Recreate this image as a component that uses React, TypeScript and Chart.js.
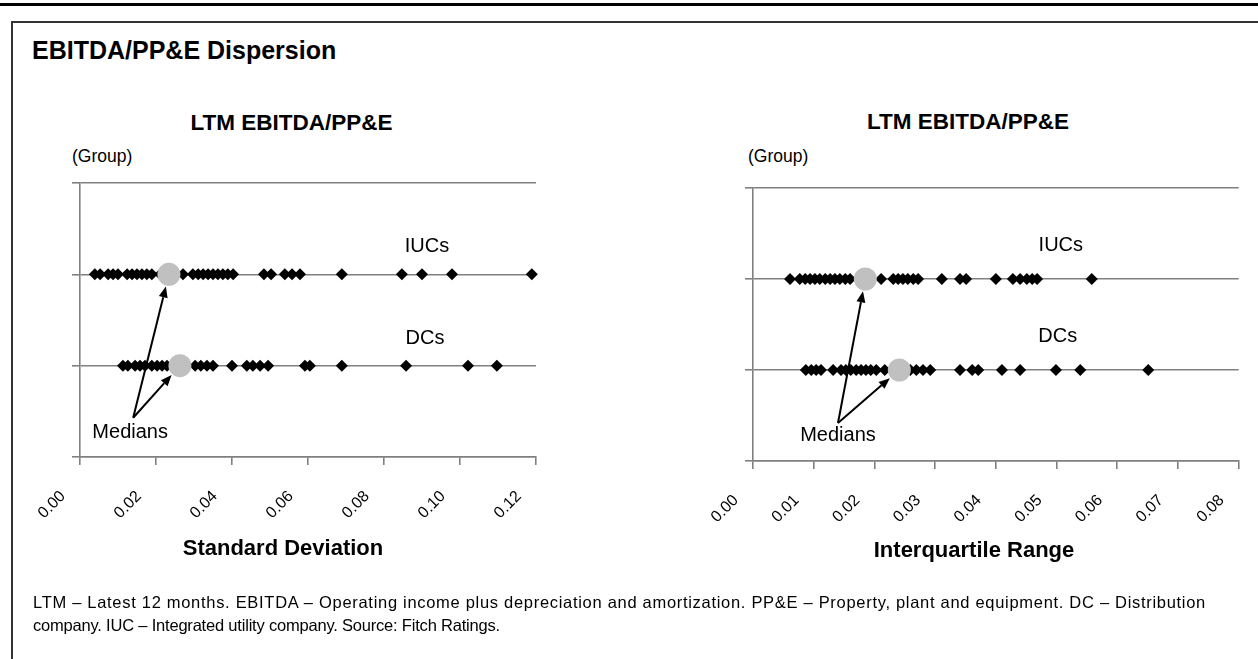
import React, { useEffect, useRef } from "react";
import { Chart, registerables } from "chart.js";

Chart.register(...registerables);

const FONT = '"Liberation Sans", Arial, Helvetica, sans-serif';

// ---- shared group axis ----
const GROUP_TICKS = [0, 1, 2, 3];
const IUC_ROW = 2;
const DC_ROW = 1;

// ---- left chart: standard deviation ----
const SD_TICKS = [0, 0.02, 0.04, 0.06, 0.08, 0.1, 0.12];
const SD_IUC = [
  0.0039, 0.0053, 0.0074, 0.0087, 0.01, 0.0124, 0.0137, 0.015, 0.0163, 0.0176,
  0.0189, 0.0211, 0.0271, 0.0297, 0.0311, 0.0324, 0.0337, 0.035, 0.0363, 0.0376,
  0.0389, 0.0403, 0.0484, 0.0503, 0.0539, 0.0558, 0.0579, 0.0689, 0.0847, 0.09,
  0.0979, 0.1189,
];
const SD_DC = [
  0.0113, 0.0126, 0.0145, 0.0158, 0.0171, 0.0189, 0.0203, 0.0216, 0.0229, 0.0242,
  0.0303, 0.0318, 0.0334, 0.035, 0.04, 0.0439, 0.0455, 0.0474, 0.0495, 0.0592,
  0.0605, 0.0689, 0.0858, 0.1021, 0.1097,
];
const SD_MEDIANS = [0.0234, 0.0263]; // IUC, DC
const SD_NOTES = [
  { text: "IUCs", x: 0.0913, y: 2.31 },
  { text: "DCs", x: 0.0908, y: 1.3 },
  { text: "Medians", x: 0.0132, y: 0.27 },
];
const SD_TAIL = { x: 0.014, y: 0.43 };

// ---- right chart: interquartile range ----
const IQR_TICKS = [0, 0.01, 0.02, 0.03, 0.04, 0.05, 0.06, 0.07, 0.08];
const IQR_IUC = [
  0.0061, 0.0077, 0.0086, 0.0094, 0.0102, 0.011, 0.0119, 0.0127, 0.0135, 0.0143,
  0.0152, 0.016, 0.0211, 0.0231, 0.0239, 0.0247, 0.0255, 0.0264, 0.0272, 0.0311,
  0.0341, 0.0351, 0.04, 0.0428, 0.044, 0.0451, 0.046, 0.0468, 0.0558,
];
const IQR_DC = [
  0.0087, 0.0096, 0.0104, 0.0112, 0.0132, 0.0145, 0.0153, 0.0161, 0.017, 0.0178,
  0.0186, 0.0194, 0.0203, 0.0217, 0.0259, 0.0269, 0.028, 0.0292, 0.0341, 0.0361,
  0.0371, 0.041, 0.044, 0.0499, 0.0539, 0.0651,
];
const IQR_MEDIANS = [0.0185, 0.0241]; // IUC, DC
const IQR_NOTES = [
  { text: "IUCs", x: 0.0507, y: 2.37 },
  { text: "DCs", x: 0.0502, y: 1.37 },
  { text: "Medians", x: 0.014, y: 0.275 },
];
const IQR_TAIL = { x: 0.014, y: 0.418 };

const GREY = "#808080";
const MEDIAN_R = 11.5;

type Cfg = {
  ticks: number[];
  iuc: number[];
  dc: number[];
  medians: number[];
  notes: { text: string; x: number; y: number }[];
  tail: { x: number; y: number };
  pad: { top: number; right: number };
  yWidth: number;
  xHeight: number;
};

const annotate = (cfg: Cfg) => ({
  id: "annot",
  afterDatasetsDraw(chart: any) {
    const ctx = chart.ctx as CanvasRenderingContext2D;
    const xs = chart.scales.x;
    const ys = chart.scales.y;
    ctx.save();
    ctx.fillStyle = "#000";
    ctx.font = `20px ${FONT}`;
    ctx.textAlign = "center";
    ctx.textBaseline = "middle";
    cfg.notes.forEach((n) => {
      ctx.fillText(n.text, xs.getPixelForValue(n.x), ys.getPixelForValue(n.y));
    });
    const tx = xs.getPixelForValue(cfg.tail.x);
    const ty = ys.getPixelForValue(cfg.tail.y);
    const targets = [
      { x: cfg.medians[0], y: IUC_ROW },
      { x: cfg.medians[1], y: DC_ROW },
    ];
    ctx.strokeStyle = "#000";
    ctx.lineWidth = 2;
    targets.forEach((t) => {
      const cx = xs.getPixelForValue(t.x);
      const cy = ys.getPixelForValue(t.y);
      const dx = cx - tx;
      const dy = cy - ty;
      const len = Math.hypot(dx, dy);
      const ux = dx / len;
      const uy = dy / len;
      const ex = cx - ux * (MEDIAN_R + 1);
      const ey = cy - uy * (MEDIAN_R + 1);
      const hl = 11;
      const hw = 4.5;
      const bx = ex - ux * hl;
      const by = ey - uy * hl;
      ctx.beginPath();
      ctx.moveTo(tx, ty);
      ctx.lineTo(bx, by);
      ctx.stroke();
      ctx.beginPath();
      ctx.moveTo(ex, ey);
      ctx.lineTo(bx - uy * hw, by + ux * hw);
      ctx.lineTo(bx + uy * hw, by - ux * hw);
      ctx.closePath();
      ctx.fillStyle = "#000";
      ctx.fill();
    });
    ctx.restore();
  },
});

function makeChart(canvas: HTMLCanvasElement, cfg: Cfg) {
  const xMax = cfg.ticks[cfg.ticks.length - 1];
  return new Chart(canvas, {
    type: "scatter",
    data: {
      datasets: [
        {
          label: "Medians",
          data: [
            { x: cfg.medians[0], y: IUC_ROW },
            { x: cfg.medians[1], y: DC_ROW },
          ],
          pointStyle: "circle",
          pointRadius: MEDIAN_R,
          backgroundColor: "#c0c0c0",
          borderWidth: 0,
          clip: false,
        } as any,
        {
          label: "IUCs",
          data: cfg.iuc.map((v) => ({ x: v, y: IUC_ROW })),
          pointStyle: "rectRot",
          pointRadius: 6,
          backgroundColor: "#000",
          borderWidth: 0,
          clip: false,
        } as any,
        {
          label: "DCs",
          data: cfg.dc.map((v) => ({ x: v, y: DC_ROW })),
          pointStyle: "rectRot",
          pointRadius: 6,
          backgroundColor: "#000",
          borderWidth: 0,
          clip: false,
        } as any,
      ],
    },
    options: {
      animation: false,
      responsive: false,
      events: [],
      layout: { padding: { top: cfg.pad.top, right: cfg.pad.right, left: 0, bottom: 0 } },
      plugins: { legend: { display: false }, tooltip: { enabled: false }, title: { display: false } },
      scales: {
        x: {
          type: "linear",
          min: 0,
          max: xMax,
          afterBuildTicks: (s: any) => {
            s.ticks = cfg.ticks.map((v) => ({ value: v }));
          },
          afterFit: (s: any) => {
            s.height = cfg.xHeight;
            s.paddingLeft = 0;
            s.paddingRight = 0;
          },
          ticks: {
            autoSkip: false,
            minRotation: 45,
            maxRotation: 45,
            padding: 22,
            labelOffset: -17,
            color: "#000",
            font: { family: FONT, size: 16 },
            callback: (v: any) => Number(v).toFixed(2),
          },
          grid: { drawOnChartArea: false, color: GREY, lineWidth: 1.6, tickLength: 8 },
          border: { color: GREY, width: 1.6 },
        },
        y: {
          type: "linear",
          min: 0,
          max: 3,
          afterBuildTicks: (s: any) => {
            s.ticks = GROUP_TICKS.map((v) => ({ value: v }));
          },
          afterFit: (s: any) => {
            s.width = cfg.yWidth;
            s.paddingTop = 0;
            s.paddingBottom = 0;
          },
          ticks: { display: false },
          grid: { color: GREY, lineWidth: 1.6, tickLength: 8, drawTicks: true },
          border: { color: GREY, width: 1.6 },
        },
      },
    } as any,
    plugins: [annotate(cfg)],
  });
}

const abs = (o: React.CSSProperties): React.CSSProperties => ({
  position: "absolute",
  lineHeight: 1,
  whiteSpace: "nowrap",
  ...o,
});

export default function App() {
  const leftRef = useRef<HTMLCanvasElement>(null);
  const rightRef = useRef<HTMLCanvasElement>(null);

  useEffect(() => {
    const a = makeChart(leftRef.current!, {
      ticks: SD_TICKS,
      iuc: SD_IUC,
      dc: SD_DC,
      medians: SD_MEDIANS,
      notes: SD_NOTES,
      tail: SD_TAIL,
      pad: { top: 13, right: 24 },
      yWidth: 60,
      xHeight: 133,
    });
    const b = makeChart(rightRef.current!, {
      ticks: IQR_TICKS,
      iuc: IQR_IUC,
      dc: IQR_DC,
      medians: IQR_MEDIANS,
      notes: IQR_NOTES,
      tail: IQR_TAIL,
      pad: { top: 13, right: 16.3 },
      yWidth: 53,
      xHeight: 134,
    });
    return () => {
      a.destroy();
      b.destroy();
    };
  }, []);

  return (
    <div
      style={{
        position: "absolute",
        left: 0,
        top: 0,
        width: 1258,
        height: 659,
        overflow: "hidden",
        background: "#fff",
        fontFamily: FONT,
        color: "#000",
      }}
    >
      <div style={abs({ left: 0, top: 3, width: 1258, height: 3, background: "#000" })} />
      <div
        style={abs({
          left: 11,
          top: 21,
          width: 1300,
          height: 700,
          borderTop: "2px solid #333",
          borderLeft: "2px solid #333",
        })}
      />
      <div style={abs({ left: 32, top: 37.5, fontSize: 25, fontWeight: "bold" })}>
        EBITDA/PP&amp;E Dispersion
      </div>

      <div
        style={abs({
          left: 291.5,
          top: 112,
          fontSize: 22.5,
          fontWeight: "bold",
          transform: "translateX(-50%)",
        })}
      >
        LTM EBITDA/PP&amp;E
      </div>
      <div style={abs({ left: 72, top: 148, fontSize: 17.5 })}>(Group)</div>

      <div
        style={abs({
          left: 968,
          top: 111,
          fontSize: 22.5,
          fontWeight: "bold",
          transform: "translateX(-50%)",
        })}
      >
        LTM EBITDA/PP&amp;E
      </div>
      <div style={abs({ left: 748, top: 148, fontSize: 17.5 })}>(Group)</div>

      <canvas
        ref={leftRef}
        width={540}
        height={420}
        style={{ position: "absolute", left: 20, top: 170, width: 540, height: 420 }}
      />
      <canvas
        ref={rightRef}
        width={555}
        height={420}
        style={{ position: "absolute", left: 700, top: 175, width: 555, height: 420 }}
      />

      <div
        style={abs({
          left: 283,
          top: 537,
          fontSize: 22,
          fontWeight: "bold",
          transform: "translateX(-50%)",
        })}
      >
        Standard Deviation
      </div>
      <div
        style={abs({
          left: 974,
          top: 539,
          fontSize: 22,
          fontWeight: "bold",
          transform: "translateX(-50%)",
        })}
      >
        Interquartile Range
      </div>

      <div style={abs({ left: 33, top: 591, fontSize: 16.5, lineHeight: "23px" })}>
        <span style={{ letterSpacing: 0.7 }}>
          LTM – Latest 12 months. EBITDA – Operating income plus depreciation and amortization.
          PP&amp;E – Property, plant and equipment. DC – Distribution
        </span>
        <br />
        <span style={{ letterSpacing: -0.2 }}>
          company. IUC – Integrated utility company. Source: Fitch Ratings.
        </span>
      </div>
    </div>
  );
}
